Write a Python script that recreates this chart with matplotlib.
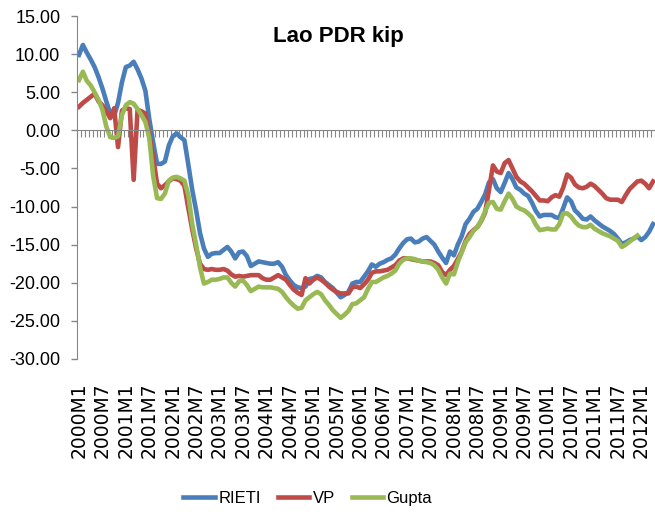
import numpy as np
import matplotlib.pyplot as plt

# monthly real exchange rate misalignment, 2000M1 .. 2012M4
months = ["%dM%d" % (2000 + k // 12, k % 12 + 1) for k in range(148)]

rieti = [9.9, 11.2, 10.2, 9.3, 8.3, 7.0, 5.5, 3.8, 2.2, 1.9,
         3.6, 6.3, 8.3, 8.5, 9.0, 8.0, 6.8, 5.2, 1.5, -1.6,
         -4.4, -4.4, -4.1, -2.0, -0.8, -0.4, -0.9, -1.3, -4.5, -7.8,
         -10.5, -13.5, -15.5, -16.6, -16.2, -16.1, -16.1, -15.7, -15.3, -15.9,
         -16.8, -16.0, -15.9, -16.5, -17.8, -17.5, -17.2, -17.3, -17.4, -17.5,
         -17.5, -17.3, -17.9, -19.0, -19.7, -20.3, -20.6, -20.7, -20.5, -19.5,
         -19.4, -19.1, -19.3, -19.9, -20.3, -20.7, -21.3, -21.9, -21.6, -21.2,
         -20.1, -19.9, -19.9, -19.2, -18.5, -17.6, -17.9, -17.5, -17.3, -17.0,
         -16.8, -16.3, -15.5, -14.8, -14.3, -14.2, -14.7, -14.6, -14.2, -14.0,
         -14.5, -15.0, -15.9, -16.7, -17.4, -15.9, -16.4, -15.0, -13.9, -12.3,
         -11.6, -10.7, -10.3, -9.4, -8.4, -6.8, -6.4, -7.6, -8.1, -6.9,
         -5.6, -6.4, -7.5, -7.8, -8.3, -8.6, -9.5, -10.6, -11.3, -11.1,
         -11.1, -11.1, -11.4, -11.5, -10.2, -8.8, -9.3, -10.5, -11.0, -11.6,
         -11.7, -11.3, -11.8, -12.2, -12.6, -12.9, -13.2, -13.6, -14.2, -14.9,
         -14.7, -14.4, -14.2, -13.9, -14.4, -14.0, -13.3, -12.3]

vp = [3.1, 3.6, 4.0, 4.4, 4.8, 3.8, 3.3, 2.5, 1.6, 2.9,
      -2.2, 2.6, 2.9, 2.8, -6.5, 2.7, 2.5, 2.2, -0.5, -3.5,
      -7.0, -7.6, -7.2, -6.7, -6.3, -6.4, -6.6, -7.3, -10.2, -13.0,
      -15.5, -17.5, -18.2, -18.3, -18.2, -18.3, -18.3, -18.2, -18.4, -18.9,
      -19.2, -19.1, -19.2, -19.1, -19.0, -19.0, -19.0, -19.4, -19.6, -19.6,
      -19.3, -19.0, -19.3, -19.6, -20.3, -20.9, -21.3, -21.6, -19.4, -20.1,
      -19.6, -19.3, -19.6, -20.0, -20.5, -20.9, -21.2, -21.4, -21.4, -21.4,
      -20.6, -20.5, -20.7, -20.2, -19.6, -18.7, -18.5, -18.5, -18.4, -18.3,
      -18.0, -17.7, -17.1, -16.8, -16.8, -16.9, -17.0, -17.1, -17.2, -17.2,
      -17.2, -17.4, -17.7, -18.6, -19.0, -18.3, -17.8, -16.9, -15.9, -14.5,
      -13.6, -13.1, -12.7, -11.9, -10.8, -7.8, -4.6, -5.4, -5.6, -4.3,
      -3.9, -5.0, -6.1, -6.7, -7.0, -7.5, -8.0, -8.6, -9.2, -9.2,
      -9.3, -8.8, -8.5, -8.7, -7.5, -5.8, -6.2, -7.1, -7.5, -7.6,
      -7.4, -7.0, -7.3, -7.8, -8.3, -8.9, -9.1, -9.1, -9.1, -9.4,
      -8.5, -7.7, -7.2, -6.7, -6.6, -7.0, -7.6, -6.7]

gupta = [6.6, 7.7, 6.5, 5.9, 5.0, 4.0, 2.7, 0.5, -0.9, -1.0,
         -0.8, 2.0, 3.3, 3.7, 3.5, 2.8, 2.0, 1.1, -1.0, -6.0,
         -8.9, -9.0, -8.3, -6.6, -6.2, -6.1, -6.3, -6.6, -8.5, -12.3,
         -15.0, -18.0, -20.1, -19.9, -19.6, -19.6, -19.5, -19.3, -19.3, -20.0,
         -20.5, -19.8, -19.7, -20.3, -21.1, -20.8, -20.5, -20.6, -20.6, -20.6,
         -20.7, -20.8, -21.2, -21.9, -22.5, -23.0, -23.4, -23.3, -22.3, -21.9,
         -21.5, -21.2, -21.5, -22.3, -22.9, -23.6, -24.1, -24.6, -24.2, -23.7,
         -22.8, -22.7, -22.3, -21.9, -20.8, -19.9, -19.9, -19.6, -19.3, -19.1,
         -18.8, -18.4, -17.5, -17.0, -16.8, -16.8, -16.9, -17.1, -17.2, -17.3,
         -17.4, -17.7, -18.3, -19.3, -20.1, -18.8, -18.9, -17.3, -16.0, -14.7,
         -14.0, -13.2, -12.7, -11.8, -10.6, -9.5, -9.4, -10.3, -10.4, -9.3,
         -8.3, -9.0, -10.0, -10.3, -10.5, -10.9, -11.4, -12.4, -13.1, -13.0,
         -12.9, -13.0, -13.0, -12.3, -10.9, -10.9, -11.3, -12.0, -12.5, -12.7,
         -12.7, -12.4, -12.9, -13.2, -13.5, -13.7, -13.9, -14.2, -14.5, -15.3,
         -15.0, -14.6, -14.2, -13.8, np.nan, np.nan, np.nan, np.nan]

x = np.arange(len(months))

fig = plt.figure(figsize=(6.55, 5.22), dpi=100)
ax = fig.add_axes([0.1176, 0.3123, 0.8824, 0.657])

ax.plot(x, rieti, color="#4A7EBB", lw=3.3, label="RIETI", solid_joinstyle="round")
ax.plot(x, vp, color="#BE4B48", lw=3.3, label="VP", solid_joinstyle="round")
ax.plot(x, gupta, color="#98B954", lw=3.3, label="Gupta", solid_joinstyle="round")

ax.set_xlim(-0.5, len(months) - 0.5)
ax.set_ylim(-30, 15)
ax.set_yticks(np.arange(-30, 16, 5))
ax.set_yticklabels(["%.2f" % v for v in np.arange(-30, 16, 5)],
                   fontfamily="Liberation Sans", fontsize=13)
ax.tick_params(axis="y", direction="out", length=4, width=1, color="#868686", pad=8)

gray = "#868686"
for s in ["top", "right"]:
    ax.spines[s].set_visible(False)
ax.spines["left"].set_color(gray)
ax.spines["bottom"].set_position(("data", 0))
ax.spines["bottom"].set_color(gray)
ax.set_xticks(np.arange(-0.5, len(months), 1))
ax.tick_params(axis="x", direction="out", length=5, width=0.8, color=gray, labelbottom=False)

sec = ax.secondary_xaxis("bottom")
sec.set_xticks(x[::6])
sec.set_xticklabels(months[::6], rotation=90, fontfamily="DejaVu Sans", fontsize=13.5)
sec.tick_params(length=0, pad=17)
sec.spines["bottom"].set_visible(False)

fig.text(0.516, 0.9195, "Lao PDR kip", ha="center", va="baseline",
         fontsize=16, fontweight="bold", fontfamily="Liberation Sans")

fig.legend(loc="center", bbox_to_anchor=(0.47, 0.045), ncol=3, frameon=False,
           prop={"family": "Liberation Sans", "size": 12},
           handlelength=1.9, handletextpad=0.2, columnspacing=1.0)

fig.savefig("out.png", dpi=100)
